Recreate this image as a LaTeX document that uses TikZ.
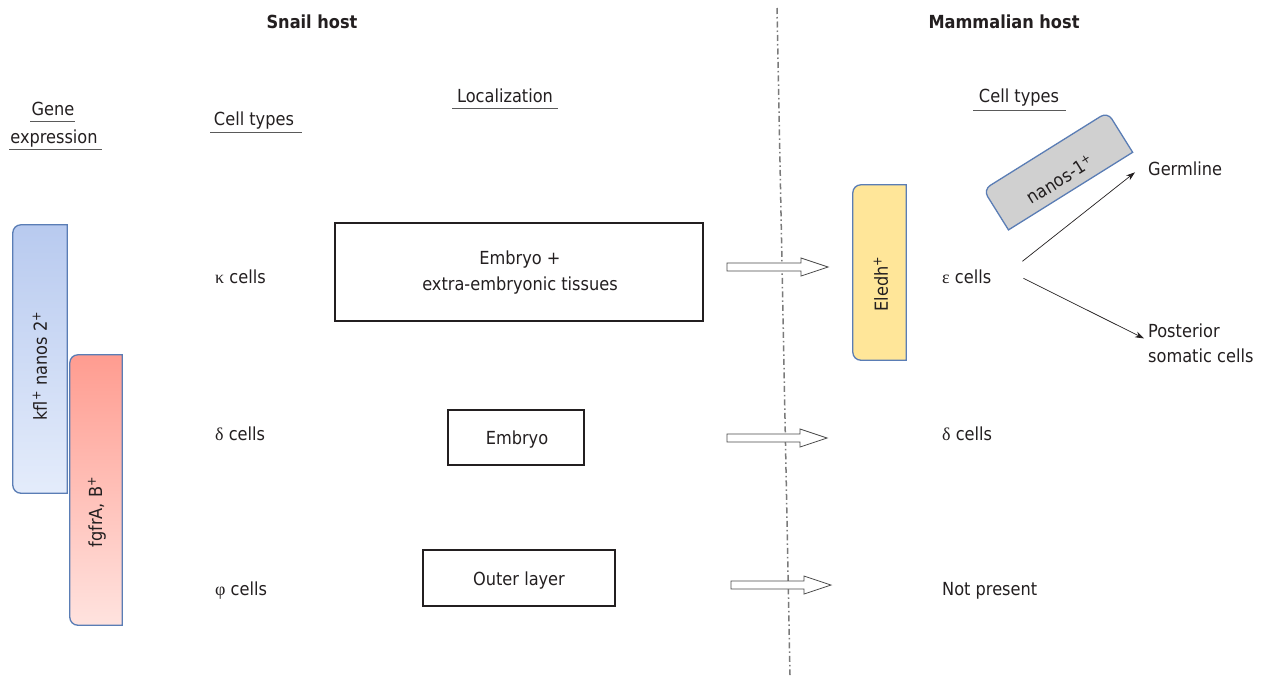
\documentclass[tikz,border=0pt]{standalone}
\usepackage{fontspec}
\setmainfont{DejaVu Sans Condensed}
\newfontfamily\grk{Liberation Serif}
\usetikzlibrary{arrows.meta}
\definecolor{txt}{HTML}{231F20}
\definecolor{boxblue}{HTML}{5A7DB5}
\definecolor{blueT}{HTML}{B8CAEF}
\definecolor{blueB}{HTML}{E4ECFB}
\definecolor{redT}{HTML}{FF9C90}
\definecolor{redB}{HTML}{FFE3DF}
\definecolor{yel}{HTML}{FFE699}
\definecolor{grayfill}{HTML}{D0D0D0}
\definecolor{axisgray}{HTML}{7A7A7A}
\definecolor{ulgray}{HTML}{5A5A5A}
\tikzset{
  lbl/.style={font=\fontsize{18}{26}\selectfont, text=txt, inner sep=0pt},
  head/.style={font=\bfseries\fontsize{18}{22}\selectfont, text=txt, inner sep=0pt},
  uline/.style={draw=ulgray, line width=0.9pt},
  boxline/.style={draw=boxblue, line width=1.3pt},
  shell/.style={inner sep=0pt, draw=none},
  locbox/.style={draw=txt, line width=1.1pt, inner sep=0pt},
  hollow/.style={draw=black!70, fill=white, line width=0.8pt, line join=miter},
  thinarrow/.style={draw=txt, line width=0.7pt, -{Stealth[length=9pt,width=6pt]}},
  axis/.style={draw=axisgray, line width=1.5pt, dash pattern=on 6pt off 3pt on 1.5pt off 3pt}
}
\newcommand\harrow[3]{%
  \draw[hollow] (#1,#3-4) -- (#2-27,#3-4) -- (#2-27,#3-9) -- (#2,#3)
    -- (#2-27,#3+9) -- (#2-27,#3+4) -- (#1,#3+4) -- cycle;}
\begin{document}
\begin{tikzpicture}[x=1pt,y=-1pt]
\useasboundingbox[fill=white] (0,0) rectangle (1261,675);

% dividing line
\coordinate (ax1) at (777,8);
\coordinate (ax2) at (790,675);
\draw[axis] (ax1) -- (ax2);

% headers
\node[head, anchor=base] (snail) at (312,28) {Snail host};
\node[head, anchor=base] (mammal) at (1004,28) {Mammalian host};

% column titles
\node[lbl, anchor=base] (gene) at (53,115) {Gene};
\draw[uline] (30,121) -- (75,121);
\node[lbl, anchor=base] (expr) at (54,143) {expression};
\draw[uline] (9,149) -- (102,149);
\node[lbl, anchor=base] (ct1) at (254,125) {Cell types};
\draw[uline] (210,132) -- (302,132);
\node[lbl, anchor=base] (loc) at (505,102) {Localization};
\draw[uline] (452,108) -- (558,108);
\node[lbl, anchor=base] (ct2) at (1019,102) {Cell types};
\draw[uline] (973,110) -- (1066,110);

% gene expression boxes
\node[shell, rotate=90, minimum width=268pt, minimum height=54pt] (kfl) at (40,359) {};
\path[boxline, top color=blueT, bottom color=blueB]
  (kfl.south west) {[rounded corners=8pt] -- (kfl.north west) -- (kfl.north east)} -- (kfl.south east) -- cycle;
\node[lbl, rotate=90] (kfltxt) at (40,366) {kfl\textsuperscript{+} nanos 2\textsuperscript{+}};

\node[shell, rotate=90, minimum width=270pt, minimum height=52pt] (fgf) at (96,490) {};
\path[boxline, top color=redT, bottom color=redB]
  (fgf.south west) {[rounded corners=8pt] -- (fgf.north west) -- (fgf.north east)} -- (fgf.south east) -- cycle;
\node[lbl, rotate=90] (fgftxt) at (97,512) {fgfrA, B\textsuperscript{+}};

% snail cell types
\node[lbl, anchor=base west] (kappa) at (215,283) {{\grk κ} cells};
\node[lbl, anchor=base west] (delta) at (215,440) {{\grk δ} cells};
\node[lbl, anchor=base west] (phi) at (215,595) {{\grk φ} cells};

% localization boxes
\node[locbox, minimum width=368pt, minimum height=98pt] (loc1) at (519,272) {};
\node[lbl, anchor=base] (loc1a) at (520,264) {Embryo +};
\node[lbl, anchor=base] (loc1b) at (520,290) {extra-embryonic tissues};
\node[locbox, minimum width=136pt, minimum height=55pt] (loc2) at (516,437.5) {};
\node[lbl, anchor=base] (loc2t) at (517,444) {Embryo};
\node[locbox, minimum width=192pt, minimum height=56pt] (loc3) at (519,578) {};
\node[lbl, anchor=base] (loc3t) at (519,585) {Outer layer};

% hollow arrows
\harrow{727}{828}{267}
\harrow{727}{827}{438}
\harrow{731}{831}{585}

% Eledh box
\node[shell, rotate=90, minimum width=175pt, minimum height=53pt] (eled) at (879.5,272.5) {};
\path[boxline, fill=yel]
  (eled.south west) {[rounded corners=8pt] -- (eled.north west) -- (eled.north east)} -- (eled.south east) -- cycle;
\node[lbl, rotate=90] (eledtxt) at (881,284) {Eledh\textsuperscript{+}};

% nanos-1 box
\node[shell, rotate=32, minimum width=146pt, minimum height=47pt] (nan) at (1058,171) {};
\path[boxline, fill=grayfill]
  (nan.south west) {[rounded corners=8pt] -- (nan.north west) -- (nan.north east)} -- (nan.south east) -- cycle;
\node[lbl, rotate=32] (nantxt) at (1060,179) {nanos-1\textsuperscript{+}};

% mammalian cell types
\node[lbl, anchor=base west] (eps) at (942,283) {{\grk ε} cells};
\node[lbl, anchor=base west] (delta2) at (942,440) {{\grk δ} cells};
\node[lbl, anchor=base west] (notp) at (942,595) {Not present};
\node[lbl, anchor=base west] (germ) at (1148,175) {Germline};
\node[lbl, anchor=base west] (post1) at (1148,337) {Posterior};
\node[lbl, anchor=base west] (post2) at (1148,362) {somatic cells};

\draw[thinarrow] ([shift={(31pt,15pt)}]eps.east) -- ([shift={(-13pt,-4pt)}]germ.west);
\draw[thinarrow] ([shift={(32pt,-2pt)}]eps.east) -- ([shift={(-4pt,-1pt)}]post1.south west);
\end{tikzpicture}
\end{document}
